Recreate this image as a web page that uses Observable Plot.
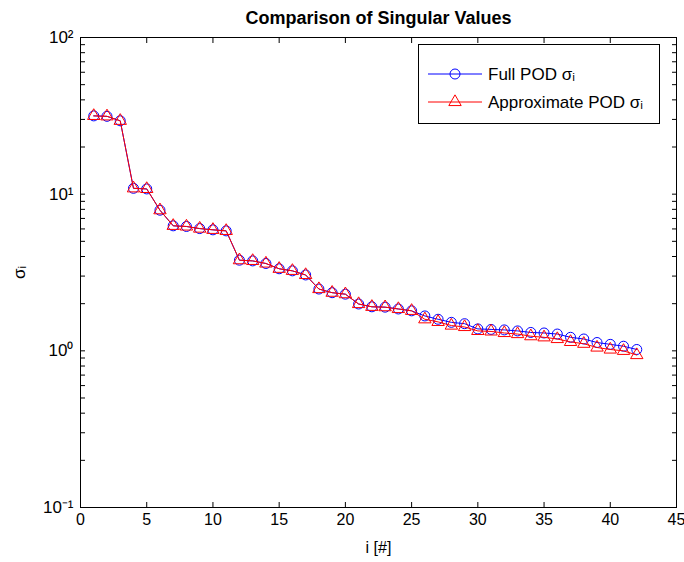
<!DOCTYPE html>
<html>
<head>
<meta charset="utf-8">
<script src="https://cdn.jsdelivr.net/npm/d3@7"></script>
<script src="https://cdn.jsdelivr.net/npm/@observablehq/plot@0.6"></script>
<style>
  html, body { margin: 0; padding: 0; background: #fff; }
  #wrap { position: relative; width: 684px; height: 562px; }
  #legend { position: absolute; left: 418px; top: 44px; }
</style>
</head>
<body>
<div id="wrap"></div>
<script>
// ---- data ----
const idx = [1,2,3,4,5,6,7,8,9,10,11,12,13,14,15,16,17,18,19,20,21,22,23,24,25,26,27,28,29,30,31,32,33,34,35,36,37,38,39,40,41,42];
const fullPOD = [31.6,31.4,29.4,10.9,10.8,7.9,6.28,6.22,6.03,5.92,5.83,3.79,3.75,3.61,3.34,3.24,3.05,2.48,2.35,2.30,1.99,1.91,1.90,1.85,1.80,1.67,1.59,1.52,1.49,1.38,1.37,1.36,1.34,1.31,1.30,1.28,1.22,1.19,1.13,1.10,1.07,1.02];
const approxPOD = [31.6,31.4,29.4,10.9,10.8,7.9,6.28,6.22,6.03,5.92,5.83,3.79,3.75,3.61,3.34,3.24,3.05,2.48,2.35,2.30,1.99,1.91,1.90,1.85,1.80,1.59,1.53,1.45,1.42,1.34,1.33,1.30,1.28,1.24,1.22,1.19,1.14,1.11,1.05,1.02,1.00,0.94];
const xTicks = [0,5,10,15,20,25,30,35,40,45];
const yMajor = [0.1,1,10,100];
const yMajorLabels = ["10\u207B\u00B9","10\u2070","10\u00B9","10\u00B2"];
const yMinor = [0.2,0.3,0.4,0.5,0.6,0.7,0.8,0.9,2,3,4,5,6,7,8,9,20,30,40,50,60,70,80,90];
const titleText = "Comparison of Singular Values";
const xLabel = "i [#]";
const yLabel = "\u03C3\u1D62";
const seriesNames = ["Full POD \u03C3\u1D62", "Approximate POD \u03C3\u1D62"];
const seriesColors = ["#0000ff", "#ff0000"];

const full = idx.map((i, k) => ({i, v: fullPOD[k]}));
const approx = idx.map((i, k) => ({i, v: approxPOD[k]}));

const FONT = "'Liberation Sans', Arial, sans-serif";
const yTickAll = [...yMajor, ...yMinor];

const chart = Plot.plot({
  width: 684,
  height: 562,
  marginLeft: 80,
  marginRight: 8,
  marginTop: 37,
  marginBottom: 55,
  style: {fontFamily: FONT, fontSize: "16px", color: "#000", background: "#fff"},
  x: {domain: [0, 45]},
  y: {type: "log", domain: [0.1, 100]},
  marks: [
    // inward ticks
    Plot.axisX({anchor: "bottom", ticks: xTicks, tickSize: -5, fill: "none", label: null}),
    Plot.axisX({anchor: "top", ticks: xTicks, tickSize: -5, fill: "none", label: null}),
    Plot.axisY({anchor: "left", ticks: yTickAll, tickSize: -5, fill: "none", label: null}),
    Plot.axisY({anchor: "right", ticks: yTickAll, tickSize: -5, fill: "none", label: null}),
    // labels
    Plot.axisX({anchor: "bottom", ticks: xTicks, tickSize: 0, tickPadding: 6, fontSize: 16,
      label: xLabel, labelAnchor: "center", labelOffset: 45, labelArrow: "none"}),
    Plot.axisY({anchor: "left", ticks: yMajor, tickSize: 0, tickPadding: 7, fontSize: 17,
      tickFormat: d => yMajorLabels[yMajor.indexOf(d)],
      label: yLabel, labelAnchor: "center", labelOffset: 68, labelArrow: "none"}),
    Plot.frame({stroke: "#000", strokeWidth: 1}),
    // series
    Plot.line(full, {x: "i", y: "v", stroke: seriesColors[0], strokeWidth: 1}),
    Plot.dot(full, {x: "i", y: "v", stroke: seriesColors[0], fill: "none", r: 5, strokeWidth: 1}),
    Plot.line(approx, {x: "i", y: "v", stroke: seriesColors[1], strokeWidth: 1}),
    Plot.dot(approx, {x: "i", y: "v", symbol: "triangle", stroke: seriesColors[1], fill: "none", r: 4.6, strokeWidth: 1}),
    // title
    Plot.text([titleText], {frameAnchor: "top", dy: -26, fontWeight: "bold", fontSize: 18, fill: "#000"})
  ]
});

const wrap = document.getElementById("wrap");
wrap.appendChild(chart);

// legend box (MATLAB style)
const lw = 241, lh = 79;
const leg = d3.create("svg").attr("id", "legend").attr("width", lw + 1).attr("height", lh + 1)
  .style("font-family", FONT).style("font-size", "17px");
leg.append("rect").attr("x", 0.5).attr("y", 0.5).attr("width", lw).attr("height", lh)
  .attr("fill", "#fff").attr("stroke", "#000");
seriesNames.forEach((name, k) => {
  const cy = 30 + k * 28;
  leg.append("line").attr("x1", 10).attr("x2", 64).attr("y1", cy).attr("y2", cy)
    .attr("stroke", seriesColors[k]);
  if (k === 0) {
    leg.append("circle").attr("cx", 37).attr("cy", cy).attr("r", 5)
      .attr("fill", "none").attr("stroke", seriesColors[k]);
  } else {
    leg.append("path").attr("transform", `translate(37,${cy})`)
      .attr("d", d3.symbol(d3.symbolTriangle, Math.PI * 4.6 * 4.6)())
      .attr("fill", "none").attr("stroke", seriesColors[k]);
  }
  leg.append("text").attr("x", 70).attr("y", cy).attr("dy", "0.35em").text(name);
});
wrap.appendChild(leg.node());
</script>
</body>
</html>
